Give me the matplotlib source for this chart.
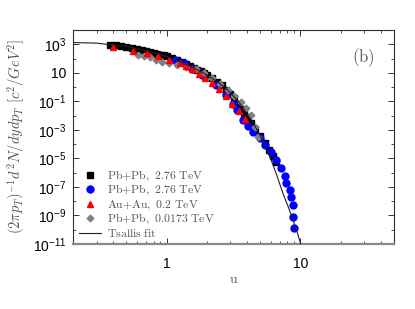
import matplotlib
matplotlib.use("Agg")
import matplotlib.pyplot as plt
from matplotlib.ticker import FixedLocator, NullFormatter, LogLocator
from matplotlib.font_manager import FontProperties

plt.rcParams['mathtext.fontset'] = 'custom'
plt.rcParams['mathtext.rm'] = 'Liberation Sans'
plt.rcParams['mathtext.it'] = 'Liberation Sans:italic'
plt.rcParams['font.family'] = ['Liberation Sans', 'DejaVu Sans']

# ---- data ----
black_u = [0.38, 0.42, 0.46, 0.50, 0.55, 0.60, 0.65, 0.70, 0.75, 0.80, 0.85, 0.90, 0.95,
           1.0, 1.1, 1.2, 1.3, 1.4, 1.5, 1.6, 1.7, 1.8, 1.9, 2.0, 2.2, 2.4, 2.6, 2.8,
           3.0, 3.2, 3.4, 3.6, 3.8, 4.0, 4.3, 4.6, 5.0, 5.4, 5.8, 6.2, 6.6]
black_v = [950, 850, 720, 620, 520, 450, 400, 340, 290, 250, 215, 185, 165,
           150, 110, 80, 60, 42, 31, 23, 17, 12.5, 9.2, 7.0, 4.0, 2.3, 1.3, 0.65,
           0.32, 0.17, 0.06, 0.03, 0.015, 0.008, 0.003, 1.2e-3, 4e-4, 1.2e-4, 4e-5, 1.5e-5, 6e-6]

blue_u = [1.15, 1.36, 1.55, 1.84, 2.33, 2.76, 3.16, 3.33, 3.75, 4.08, 4.43, 4.99, 5.43,
          6.02, 6.54, 7.13, 7.62, 7.76, 8.32, 8.44, 8.73, 8.73, 8.88]
blue_v = [80, 45, 20, 6.5, 1.3, 0.3, 0.06, 0.025, 5e-3, 1.8e-3, 7e-4, 2.5e-4, 8.7e-5,
          2.8e-5, 7.8e-6, 2.1e-6, 5.9e-7, 1.9e-7, 6.2e-8, 2e-8, 5.5e-9, 8e-10, 1.3e-10]

red_u = [0.40, 0.56, 0.71, 0.86, 1.05, 1.25, 1.40, 1.55, 1.75, 1.95, 2.18, 2.45, 2.76, 3.1, 3.5, 3.88]
red_v = [650, 340, 245, 150, 85, 50, 30, 18, 8.0, 4.0, 1.8, 0.7, 0.22, 0.07, 0.02, 0.006]

gray_u = [0.61, 0.68, 0.75, 0.83, 0.92, 1.05, 1.2, 1.4, 1.66, 1.9, 2.18, 2.5, 2.9, 3.2, 3.6, 3.9, 4.3, 4.6, 4.8]
gray_v = [180, 150, 120, 85, 58, 45, 35, 25, 20, 9.0, 4.4, 1.7, 0.63, 0.25, 0.089, 0.035, 0.011, 1.6e-3, 3e-4]

fit_u = [0.2, 0.3, 0.5, 0.7, 1.0, 1.5, 2.0, 2.5, 3.0, 3.5, 4.0, 4.5, 5.0, 5.5, 6.0, 6.5,
         7.13, 7.5, 8.0, 8.44, 9.0, 9.5, 10.0, 10.3]
fit_v = [1.32e3, 1.2e3, 7.1e2, 3.5e2, 1.4e2, 30, 7.1, 1.8, 0.4, 0.079, 0.014, 2.5e-3, 4e-4,
         6.3e-5, 8.9e-6, 1.26e-6, 1e-7, 2.5e-8, 5.6e-9, 1.5e-9, 2.5e-10, 5.9e-11, 1.17e-11, 5e-12]

labels = [r'$\mathrm{Pb{+}Pb,\ 2.76\ TeV}$', r'$\mathrm{Pb{+}Pb,\ 2.76\ TeV}$',
          r'$\mathrm{Au{+}Au,\ 0.2\ TeV}$', r'$\mathrm{Pb{+}Pb,\ 0.0173\ TeV}$',
          r'$\mathrm{Tsallis\ fit}$']
ytick_exp = [3, 1, -1, -3, -5, -7, -9, -11]

# ---- figure ----
fig = plt.figure(figsize=(4.15, 3.09), dpi=100)
ax = fig.add_axes([73/415, 65/309, 321/415, 214/309])

tcol = '#555555'
cm = FontProperties(family='DejaVu Serif', size=8.5, math_fontfamily='cm')

l_fit, = ax.plot(fit_u, fit_v, '-', color='#222222', lw=0.8, zorder=5)
l_b, = ax.plot(black_u, black_v, 's', color='black', ms=4.0, ls='none', zorder=2)
l_bl, = ax.plot(blue_u, blue_v, 'o', color='#0000ff', ms=5.0, ls='none', zorder=3)
l_r, = ax.plot(red_u, red_v, '^', color='#ff0000', ms=4.6, ls='none', zorder=4)
l_g, = ax.plot(gray_u, gray_v, 'D', color='#808080', ms=3.4, ls='none', zorder=3)

ax.set_xscale('log')
ax.set_yscale('log')
ax.set_xlim(0.2, 50)
ax.set_ylim(1e-11, 1e4)

ax.xaxis.set_major_locator(FixedLocator([1, 10]))
ax.set_xticklabels(['1', '10'])
ax.xaxis.set_minor_locator(LogLocator(base=10, subs=range(2, 10)))
ax.xaxis.set_minor_formatter(NullFormatter())

ax.yaxis.set_major_locator(FixedLocator([10.0**e for e in ytick_exp]))
ax.set_yticklabels(['10' if e == 1 else r'$10^{%d}$' % e for e in ytick_exp])
ax.yaxis.set_minor_locator(FixedLocator([10.0**e for e in [4, 2, 0, -2, -4, -6, -8, -10]]))
ax.yaxis.set_minor_formatter(NullFormatter())

ax.tick_params(which='both', direction='in', top=True, right=True, colors='#333333',
               labelcolor='black', labelsize=10)
ax.tick_params(which='major', length=4, width=0.7)
ax.tick_params(which='minor', length=2.5, width=0.6)
ax.tick_params(axis='x', pad=9)
ax.tick_params(axis='y', pad=5)

for s in ['left', 'top', 'right']:
    ax.spines[s].set_color('#333333')
    ax.spines[s].set_linewidth(0.8)
ax.spines['bottom'].set_color('#888888')
ax.spines['bottom'].set_linewidth(1.6)

ax.set_xlabel(r'$\mathrm{u}$', color=tcol, fontsize=10, math_fontfamily='cm', labelpad=1)
ax.set_ylabel(r'$(2\pi p_T)^{-1} d^2N/dydp_T\ [c^2/GeV^2]$', color=tcol, fontsize=10.5,
              math_fontfamily='cm', labelpad=4)

ax.text(0.905, 0.87, r'$\mathrm{(b)}$', transform=ax.transAxes, color=tcol, fontsize=12,
        math_fontfamily='cm', ha='center', va='center')

leg = ax.legend([l_b, l_bl, l_r, l_g, l_fit], labels, loc='lower left',
                bbox_to_anchor=(0.018, 0.02), frameon=False, prop=cm,
                handlelength=1.9, handletextpad=0.5, labelspacing=0.02,
                borderpad=0, borderaxespad=0, numpoints=1)
for t in leg.get_texts():
    t.set_color(tcol)

fig.savefig('out.png', dpi=100)
